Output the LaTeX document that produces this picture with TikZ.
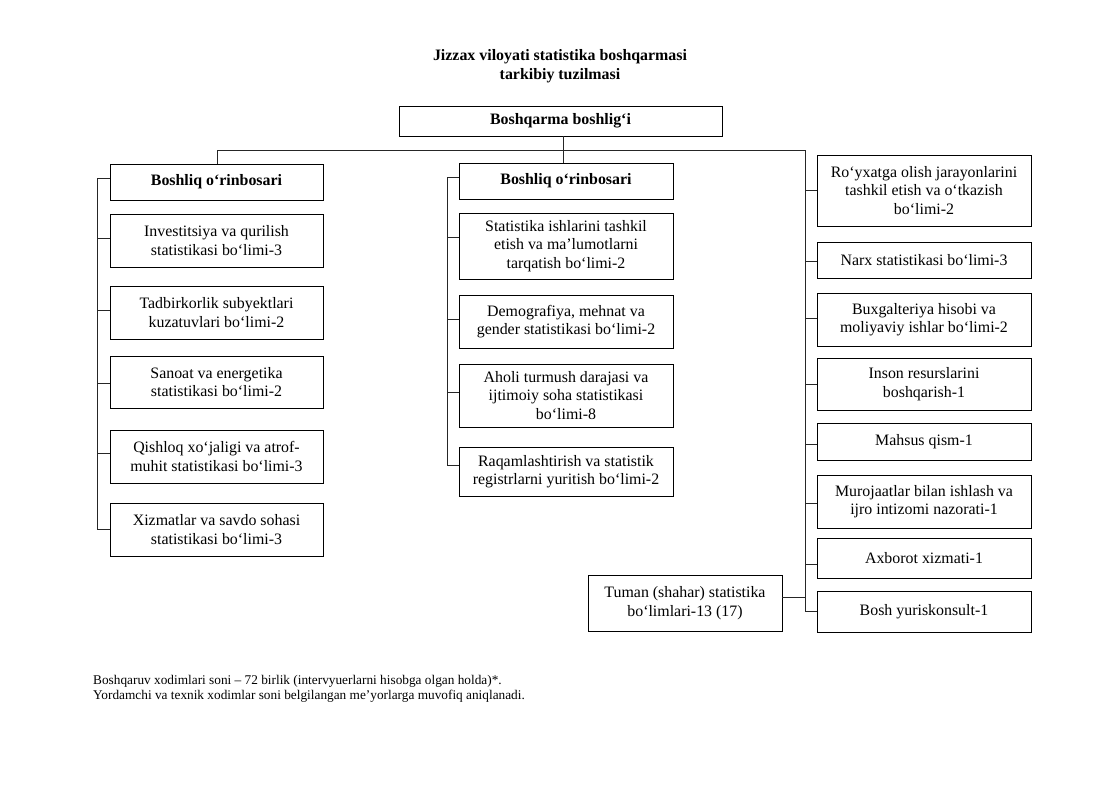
\documentclass[tikz,border=0pt]{standalone}
\usepackage{fontspec}
\setmainfont{Liberation Serif}
\newcommand\orgbox[6]{\node[box,minimum width={(#4-#3)*1pt},minimum height={(#6-#5)*1pt}] (#1) at ({(#3+#4)/2},{(#5+#6)/2}) {#2};}
\begin{document}
\begin{tikzpicture}[x=1pt,y=-1pt,
  box/.style={draw=black, line width=0.9pt, inner sep=0pt, align=center, font=\fontsize{15.9}{18.5}\selectfont},
  link/.style={draw=black!85, line width=0.9pt}]
\useasboundingbox[fill=white] (0,0) rectangle (1117,788);
\node[font=\bfseries\fontsize{15.9}{19.5}\selectfont, align=center, inner sep=0pt] (title) at (560,66) {Jizzax viloyati statistika boshqarmasi\\tarkibiy tuzilmasi};
% top
\orgbox{top}{\bfseries Boshqarma boshlig‘i}{399}{722}{106}{136}
% left column
\orgbox{L0}{\bfseries Boshliq o‘rinbosari}{110}{323}{164}{200}
\orgbox{L1}{Investitsiya va qurilish\\statistikasi bo‘limi-3}{110}{323}{214}{267}
\orgbox{L2}{Tadbirkorlik subyektlari\\kuzatuvlari bo‘limi-2}{110}{323}{286}{339}
\orgbox{L3}{Sanoat va energetika\\statistikasi bo‘limi-2}{110}{323}{356}{408}
\orgbox{L4}{Qishloq xo‘jaligi va atrof-\\muhit statistikasi bo‘limi-3}{110}{323}{430}{483}
\orgbox{L5}{Xizmatlar va savdo sohasi\\statistikasi bo‘limi-3}{110}{323}{503}{556}
% middle column
\orgbox{M0}{\bfseries Boshliq o‘rinbosari}{459}{673}{163}{199}
\orgbox{M1}{Statistika ishlarini tashkil\\etish va ma’lumotlarni\\tarqatish bo‘limi-2}{459}{673}{213}{279}
\orgbox{M2}{Demografiya, mehnat va\\gender statistikasi bo‘limi-2}{459}{673}{295}{348}
\orgbox{M3}{Aholi turmush darajasi va\\ijtimoiy soha statistikasi\\bo‘limi-8}{459}{673}{364}{427}
\orgbox{M4}{Raqamlashtirish va statistik\\registrlarni yuritish bo‘limi-2}{459}{673}{447}{496}
% right column
\orgbox{R1}{Ro‘yxatga olish jarayonlarini\\tashkil etish va o‘tkazish\\bo‘limi-2}{817}{1031}{155}{226}
\orgbox{R2}{Narx statistikasi bo‘limi-3}{817}{1031}{242}{278}
\orgbox{R3}{Buxgalteriya hisobi va\\moliyaviy ishlar bo‘limi-2}{817}{1031}{293}{346}
\orgbox{R4}{Inson resurslarini\\boshqarish-1}{817}{1031}{358}{410}
\orgbox{R5}{Mahsus qism-1}{817}{1031}{423}{460}
\orgbox{R6}{Murojaatlar bilan ishlash va\\ijro intizomi nazorati-1}{817}{1031}{475}{528}
\orgbox{R7}{Axborot xizmati-1}{817}{1031}{538}{578}
\orgbox{R8}{Bosh yuriskonsult-1}{817}{1031}{591}{632}
\orgbox{T}{Tuman (shahar) statistika\\bo‘limlari-13 (17)}{588}{782}{575}{631}
% connectors
\coordinate (hub) at (563,150);
\coordinate (hl) at (217,150);
\coordinate (hr) at (805,150);
\coordinate (lbt) at (97,178);
\coordinate (lbb) at (97,530);
\coordinate (mbt) at (447,177);
\coordinate (mbb) at (447,465);
\coordinate (rbb) at (805,612);
\draw[link] (top.south -| hub) -- (hub);
\draw[link] (hl) -- (hr);
\draw[link] (hl) -- (hl |- L0.north);
\draw[link] (hub) -- (hub |- M0.north);
\draw[link] (lbt) -- (lbb);
\draw[link] (mbt) -- (mbb);
\draw[link] (hr) -- (rbb);
\foreach \n/\s in {L0/4,L1/2.5,L2/2.5,L3/-1,L4/3.5,L5/0}
  \draw[link] ([yshift=\s pt]\n.west) -- ([yshift=\s pt]\n.west -| lbt);
\foreach \n/\s in {M0/4,M1/9,M2/2.5,M3/3.5,M4/6.5}
  \draw[link] ([yshift=\s pt]\n.west) -- ([yshift=\s pt]\n.west -| mbt);
\foreach \n/\s in {R1/0,R2/-1,R3/1.5,R4/0,R5/-2.5,R6/-1.5,R7/-6,R8/0}
  \draw[link] ([yshift=\s pt]\n.west) -- ([yshift=\s pt]\n.west -| hr);
\draw[link] ([yshift=6pt]T.east) -- ([yshift=6pt]T.east -| hr);
% footnote
\node[anchor=west, align=left, inner sep=0pt, font=\fontsize{13.3}{15.3}\selectfont] (note) at (93,689) {Boshqaruv xodimlari soni – 72 birlik (intervyuerlarni hisobga olgan holda)*.\\Yordamchi va texnik xodimlar soni belgilangan me’yorlarga muvofiq aniqlanadi.};
\end{tikzpicture}
\end{document}
